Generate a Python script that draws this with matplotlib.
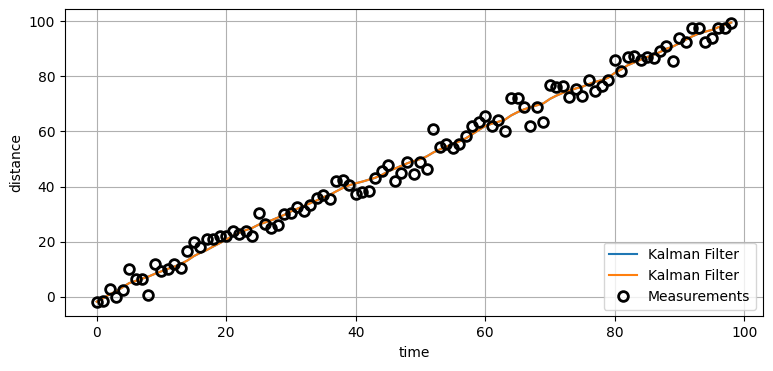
import numpy as np
import matplotlib
matplotlib.use("Agg")
import matplotlib.pyplot as plt

# measured distances, one per time step
measurements = [-2, -1.5, 3, 0, 2.5, 10, 6.5, 6.5, 0.7, 12,
                9.5, 10, 12, 10.5, 16.5, 20, 18, 21, 21, 22,
                22, 24, 23, 24, 22, 30.5, 26.5, 25, 26, 30,
                30.5, 32.5, 31, 33.5, 36, 37, 35.5, 42, 42.5, 40.5,
                37.5, 38, 38.5, 43, 45.5, 48, 42, 45, 49, 44.5,
                49, 46.5, 61, 54.5, 55.5, 54, 55.5, 58.5, 62, 63.5,
                65.5, 62, 64, 60, 72, 72, 69, 62, 69, 63.5,
                77, 76, 76.5, 72.5, 75.5, 73, 78.5, 74.5, 76.5, 78.5,
                86, 82, 87, 87.5, 86, 87, 86.5, 89, 91, 85.5,
                94, 92.5, 97.5, 97.5, 92.5, 94, 97.5, 97.5, 99.5]

# filtered estimate
kalman = [-1.7, -0.5, 1.0, 2.0, 3.5, 5.0, 5.8, 6.6, 7.4, 8.4,
          9.3, 10.2, 11.0, 12.0, 13.2, 14.8, 16.0, 17.0, 18.3, 19.5,
          20.8, 22.2, 23.2, 24.2, 25.0, 26.2, 27.0, 27.8, 28.8, 29.8,
          31.0, 32.0, 33.0, 34.0, 35.0, 36.2, 37.0, 38.3, 39.5, 40.5,
          41.2, 41.8, 42.5, 43.2, 44.2, 45.5, 46.5, 47.5, 48.5, 49.3,
          50.0, 51.0, 52.4, 53.5, 54.5, 55.5, 56.4, 57.5, 59.0, 60.5,
          62.0, 62.8, 63.5, 64.2, 65.8, 67.0, 68.0, 68.8, 69.5, 70.2,
          71.8, 73.0, 74.0, 74.8, 75.6, 76.2, 77.2, 78.0, 78.6, 79.5,
          81.2, 82.5, 84.0, 85.0, 86.0, 87.0, 87.8, 88.8, 90.0, 90.8,
          92.0, 93.3, 94.5, 95.5, 96.2, 96.8, 97.8, 98.7, 99.5]

t = np.arange(len(measurements))

fig, ax = plt.subplots(figsize=(7.73, 3.71), dpi=100)
fig.subplots_adjust(left=0.084, right=0.987, bottom=0.147, top=0.977)

ax.plot(t, kalman, label="Kalman Filter")
ax.plot(t, kalman, label="Kalman Filter")
ax.plot(t, measurements, "o", markerfacecolor="none", markeredgecolor="black",
        markeredgewidth=2, markersize=7, label="Measurements")

ax.set_xlabel("time")
ax.set_ylabel("distance")
ax.grid(True)
ax.legend(loc="lower right")

fig.savefig("out.png", dpi=100)
